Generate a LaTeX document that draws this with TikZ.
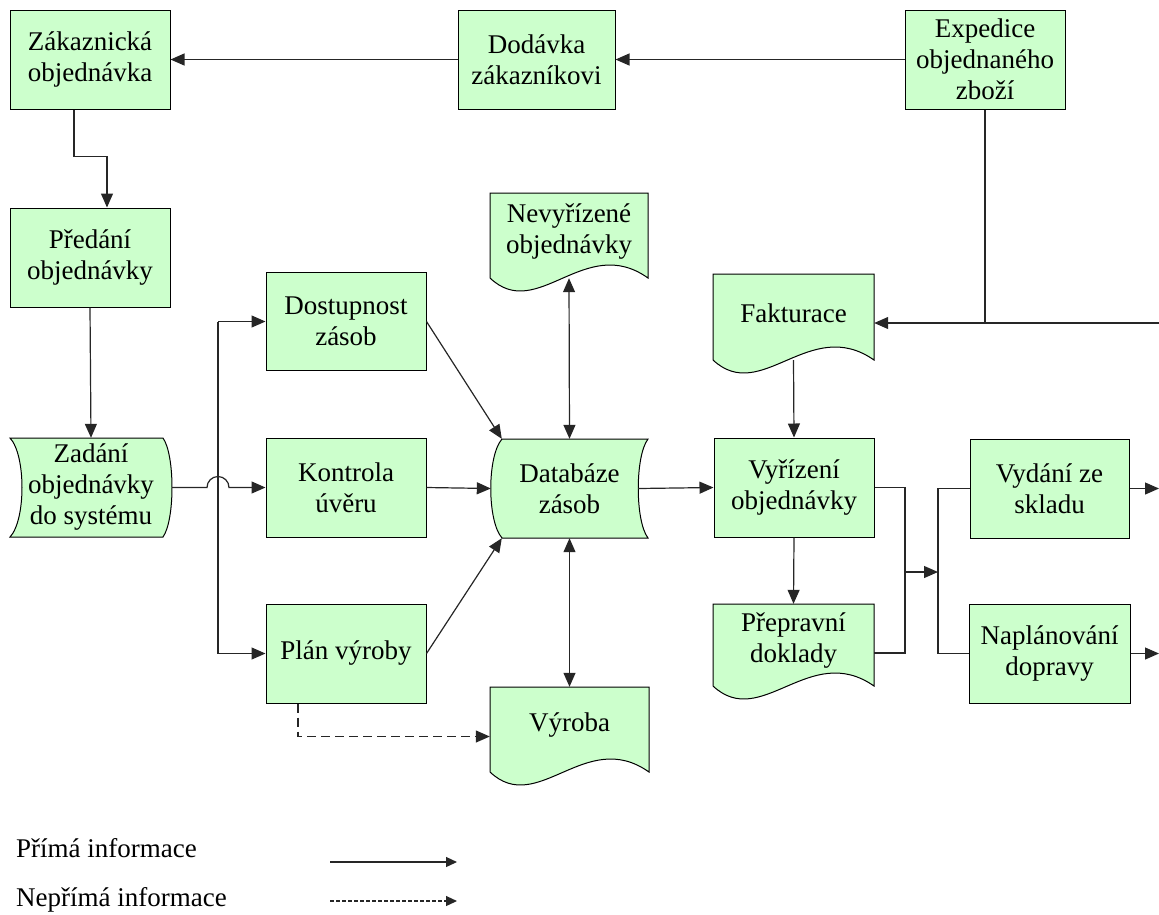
\documentclass[tikz,border=0pt]{standalone}
\usepackage{fontspec}
\setmainfont{Liberation Serif}
\usetikzlibrary{arrows.meta}
\definecolor{boxgreen}{HTML}{CCFFCC}
\definecolor{wire}{HTML}{262626}
\newcommand\boxfont{\fontsize{27pt}{31pt}\selectfont}
\tikzset{
  shapeline/.style={draw=black, fill=boxgreen, line width=1pt},
  procbox/.style={shapeline, rectangle, align=center, inner sep=0pt,
    minimum width=160pt, minimum height=99pt, font=\boxfont},
  docarea/.style={rectangle, inner sep=0pt},
  doctext/.style={align=center, inner sep=0pt, font=\boxfont},
  link/.style={draw=wire, line width=1.2pt},
  flow/.style={link, -{Triangle[length=14pt,width=12pt]}},
  dflow/.style={link, {Triangle[length=14pt,width=12pt]}-{Triangle[length=14pt,width=12pt]}},
  dashflow/.style={flow, dash pattern=on 9pt off 5pt},
  legendtext/.style={anchor=base west, inner sep=0pt, font=\boxfont},
  legendflow/.style={link, -{Triangle[length=11pt,width=10pt]}},
}
% document symbol with a wavy lower edge: name, left, top, width, height, text
\newcommand\mkdoc[6]{%
  \path[shapeline] (#2,#3) -- ({#2+#4},#3) -- ({#2+#4},{#3+#5})
     .. controls ({#2+0.6*#4},{#3+#5-45}) and ({#2+0.3*#4},{#3+#5+45}) .. (#2,{#3+#5}) -- cycle;
  \node[docarea, minimum width=#4pt, minimum height=#5pt] (#1) at ({#2+#4/2},{#3+#5/2}) {};
  \node[doctext] (#1-text) at ({#2+#4/2},{#3+#5/2-4}) {#6};
}
\begin{document}
\begin{tikzpicture}[x=1pt,y=-1pt]
\useasboundingbox (0,0) rectangle (1159,914);

% process boxes
\node[procbox] (zak)  at (90,59.5)    {Zákaznická\\objednávka};
\node[procbox, minimum width=157pt] (dod) at (536.5,59.5) {Dodávka\\zákazníkovi};
\node[procbox] (exp)  at (985,59.5)   {Expedice\\objednaného\\zboží};
\node[procbox] (pred) at (90,257.5)   {Předání\\objednávky};
\node[procbox, minimum height=98pt] (dost) at (346,321.5) {Dostupnost\\zásob};
\node[procbox] (kont) at (346,487.5)  {Kontrola\\úvěru};
\node[procbox] (plan) at (346,653.5)  {Plán výroby};
\node[procbox] (vyr)  at (794,487.5)  {Vyřízení\\objednávky};
\node[procbox, minimum width=159pt] (vyd)  at (1049.5,488.5) {Vydání ze\\skladu};
\node[procbox, minimum width=161pt] (napl) at (1049.5,653.5) {Naplánování\\dopravy};

% stored data symbols
\path[shapeline] (10,438) -- (163,438) .. controls (175,455) and (175,520) .. (163,537)
  -- (10,537) .. controls (26,520) and (26,455) .. cycle;
\node[docarea, align=center, font=\boxfont, minimum width=162pt, minimum height=99pt]
  (zad) at (91,487.5) {Zadání\\objednávky\\do systému};
\path[shapeline] (502,439) -- (648,439) .. controls (635,456) and (635,521) .. (648,538)
  -- (502,538) .. controls (487,521) and (487,456) .. cycle;
\node[docarea, align=center, font=\boxfont, minimum width=157pt, minimum height=99pt]
  (db) at (569.5,488.5) {Databáze\\zásob};

% documents
\mkdoc{nev}{490}{193}{158}{85}{Nevyřízené\\objednávky}
\mkdoc{fakt}{713}{274}{161}{86}{Fakturace}
\mkdoc{prep}{713}{604}{161}{82}{Přepravní\\doklady}
\mkdoc{vyroba}{490}{687}{159}{85}{Výroba}

% helper points
\coordinate (bus) at (218,0);
\coordinate (jump) at (207,487.5);
\coordinate (feed) at (1159,323);
\coordinate (merge) at (905,572);
\coordinate (split) at (938,572);
\coordinate (out1) at (1159,488.5);
\coordinate (out2) at (1159,653.5);

% top row
\draw[flow] (exp.west) -- (dod.east);
\draw[flow] (dod.west) -- (zak.east);
\draw[flow] ([xshift=-16pt]zak.south) -- ++(0,47) -| ([xshift=17pt]pred.north);
\draw[flow] (pred.south) -- (zad.north);

% order entry branches
\draw[flow] (zad.east) -- (jump) arc[start angle=180, end angle=0, radius=11pt] -- (kont.west);
\draw[link] (dost.west -| bus) -- (plan.west -| bus);
\draw[flow] (dost.west -| bus) -- (dost.west);
\draw[flow] (plan.west -| bus) -- (plan.west);

% into the stock database
\draw[flow] (dost.east) -- ([xshift=11pt]db.north west);
\draw[flow] (kont.east) -- (db.west);
\draw[flow] (plan.east) -- ([xshift=11pt]db.south west);
\draw[dflow] (db.north) -- (nev.south);
\draw[dflow] (db.south) -- (vyroba.north);
\draw[dashflow] ([xshift=-48pt]plan.south) |- ([yshift=-7pt]vyroba.west);

% order handling
\draw[flow] ([xshift=-10pt]db.east) -- (vyr.west);
\draw[link] (exp.south) -- (exp.south |- feed);
\draw[flow] (feed) -- ([yshift=-6pt]fakt.east);
\draw[flow] (fakt.south) -- (vyr.north);
\draw[flow] (vyr.south) -- (prep.north);

% dispatch
\draw[link] (vyr.east) -| (merge);
\draw[link] ([yshift=-8pt]prep.east) -| (merge);
\draw[flow] (merge) -- (split);
\draw[link] (vyd.west) -| (split);
\draw[link] (napl.west) -| (split);
\draw[flow] (vyd.east) -- (out1);
\draw[flow] (napl.east) -- (out2);

% legend
\node[legendtext] (lg1) at (16,857) {Přímá informace};
\node[legendtext] (lg2) at (16,906) {Nepřímá informace};
\coordinate (lg1a) at (330,862);
\coordinate (lg1b) at (457,862);
\coordinate (lg2a) at (330,901);
\coordinate (lg2b) at (457,901);
\draw[legendflow] (lg1a) -- (lg1b);
\draw[legendflow, dash pattern=on 4pt off 2pt] (lg2a) -- (lg2b);
\end{tikzpicture}
\end{document}
